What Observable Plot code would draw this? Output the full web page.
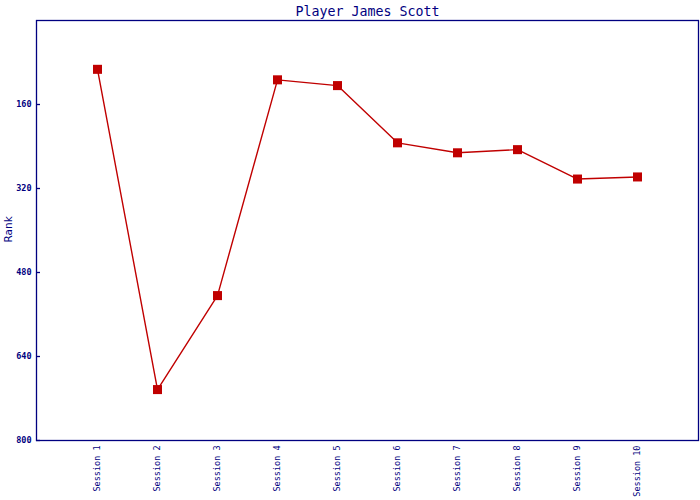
<!DOCTYPE html>
<html>
<head>
<meta charset="utf-8">
<script src="https://cdn.jsdelivr.net/npm/d3@7"></script>
<script src="https://cdn.jsdelivr.net/npm/@observablehq/plot@0.6"></script>
<style>
  html, body { margin: 0; padding: 0; background: #fff; }
  #chart svg { display: block; }
</style>
</head>
<body>
<div id="chart"></div>
<script>
const title = "Player James Scott";
const sessions = ["Session 1","Session 2","Session 3","Session 4","Session 5","Session 6","Session 7","Session 8","Session 9","Session 10"];
const ranks = [93, 703, 524, 113, 124, 233, 252, 246, 302, 298];
const yTicks = [160, 320, 480, 640, 800];
const yLabel = "Rank";

const data = sessions.map((s, i) => ({session: s, rank: ranks[i]}));
const navy = "#000080";
const red = "#c00000";

const chart = Plot.plot({
  width: 700,
  height: 500,
  marginLeft: 36,
  marginRight: 2,
  marginTop: 20,
  marginBottom: 60,
  style: {background: "#fff", color: navy},
  x: {type: "point", domain: sessions, padding: 1},
  y: {domain: [0, 800], reverse: true},
  marks: [
    Plot.frame({stroke: navy, strokeWidth: 1.3}),
    Plot.axisY({ticks: yTicks, tickSize: 0, tickPadding: 5, label: null,
      fontFamily: "DejaVu Sans Mono", fontSize: 8.5, fontWeight: "bold", fill: navy}),
    Plot.tickY(yTicks, {y: d => d, stroke: navy, strokeWidth: 1.3, insetRight: 658}),
    Plot.axisX({tickSize: 0, tickPadding: 5, tickRotate: -90, label: null,
      fontFamily: "DejaVu Sans Mono", fontSize: 8.5, fill: navy}),
    Plot.text([yLabel], {frameAnchor: "left", dx: -28, dy: 12, rotate: -90, text: d => d,
      fill: navy, fontFamily: "DejaVu Sans", fontSize: 10.5}),
    Plot.text([title], {frameAnchor: "top", dy: -14, text: d => d,
      fill: navy, fontFamily: "DejaVu Sans Mono", fontSize: 13.3}),
    Plot.line(data, {x: "session", y: "rank", stroke: red, strokeWidth: 1.4}),
    Plot.dot(data, {x: "session", y: "rank", symbol: "square", r: 5.1, fill: red, stroke: "none"})
  ]
});
document.getElementById("chart").appendChild(chart);
</script>
</body>
</html>
